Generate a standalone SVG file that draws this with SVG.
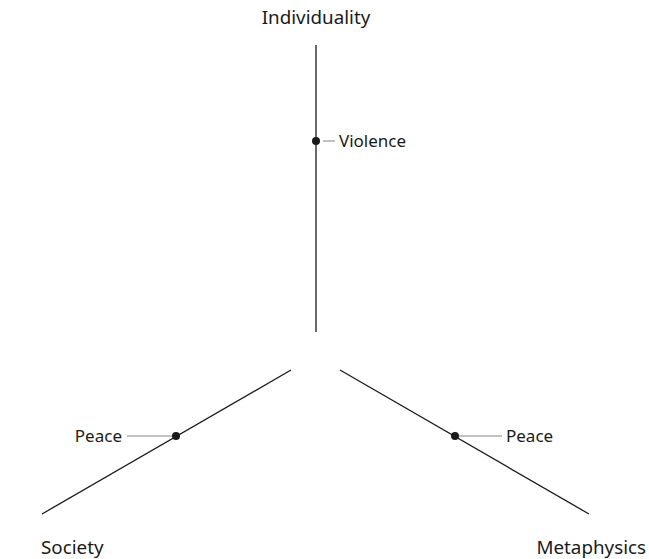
<svg xmlns="http://www.w3.org/2000/svg" width="649" height="559" viewBox="0 0 649 559">
  <style>
    .axis { stroke: #1a1a1a; stroke-width: 1.3; fill: none; }
    .leader { stroke: #777; stroke-width: 0.9; fill: none; }
    .dot { fill: #1a1a1a; }
    .lbl { font-family: "Noto Sans", "DejaVu Sans", sans-serif; fill: #1a1a1a; }
    .axis-lbl { font-size: 18.8px; }
    .pt-lbl { font-size: 17px; }
  </style>
  <rect width="649" height="559" fill="#ffffff"/>
  <g id="connectors">
    <line class="axis" x1="316" y1="45" x2="316" y2="332"/>
    <line class="axis" x1="291" y1="370" x2="42" y2="514"/>
    <line class="axis" x1="340" y1="370" x2="589" y2="514"/>
    <line class="leader" x1="323" y1="141" x2="335" y2="141"/>
    <line class="leader" x1="127" y1="436" x2="172" y2="436"/>
    <line class="leader" x1="459" y1="436" x2="502" y2="436"/>
  </g>
  <g id="individuality">
    <text class="lbl axis-lbl" x="316" y="24" text-anchor="middle">Individuality</text>
  </g>
  <g id="society">
    <text class="lbl axis-lbl" x="41" y="554">Society</text>
  </g>
  <g id="metaphysics">
    <text class="lbl axis-lbl" x="646" y="554" text-anchor="end">Metaphysics</text>
  </g>
  <g id="violence">
    <circle class="dot" cx="316" cy="141" r="4"/>
    <text class="lbl pt-lbl" x="339" y="147">Violence</text>
  </g>
  <g id="peace-society">
    <circle class="dot" cx="176" cy="436" r="4"/>
    <text class="lbl pt-lbl" x="122" y="442" text-anchor="end">Peace</text>
  </g>
  <g id="peace-metaphysics">
    <circle class="dot" cx="455" cy="436" r="4"/>
    <text class="lbl pt-lbl" x="506" y="442">Peace</text>
  </g>
</svg>
